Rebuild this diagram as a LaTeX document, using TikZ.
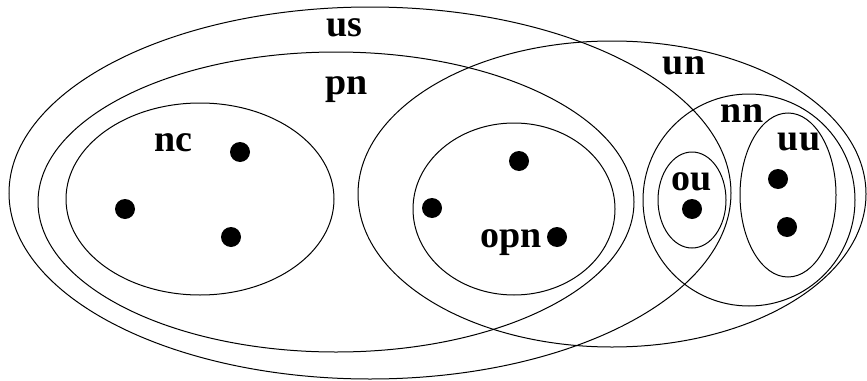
\documentclass[tikz,border=0pt]{standalone}
\usepackage{fontspec}
\setmainfont{Liberation Serif}
\usetikzlibrary{shapes.geometric}
\begin{document}
\begin{tikzpicture}[x=0.5pt,y=-0.5pt,
  setshape/.style={draw=black, line width=0.5pt, ellipse, inner sep=0pt, minimum width=#1},
  pt/.style={circle, fill=black, inner sep=0pt, minimum size=10pt},
  lbl/.style={anchor=base, inner sep=0pt, font=\fontsize{19}{22}\selectfont\bfseries}]
\useasboundingbox (0,0) rectangle (867,380);
% sets: (center), width=2rx, height=2ry (in px, 1px = 0.5pt)
\node[setshape=361pt, minimum height=186pt] (us) at (370,193) {};
\node[setshape=298pt, minimum height=150pt] (pn) at (336,202) {};
\node[setshape=134pt, minimum height=96pt] (nc) at (200,199) {};
\node[setshape=254pt, minimum height=153pt] (un) at (612,194) {};
\node[setshape=101pt, minimum height=86pt] (opn) at (514,209) {};
\node[setshape=106pt, minimum height=106pt] (nn) at (749,200) {};
\node[setshape=48pt, minimum height=82pt] (uu) at (788,195) {};
\node[setshape=34pt, minimum height=48pt] (ou) at (692,200) {};
% labels
\node[lbl] (lus) at (344,36) {us};
\node[lbl] (lpn) at (347,94) {pn};
\node[lbl] (lnc) at (173,151) {nc};
\node[lbl] (lun) at (684,74) {un};
\node[lbl] (lnn) at (742,122) {nn};
\node[lbl] (luu) at (799,150) {uu};
\node[lbl] (lou) at (692,190) {ou};
\node[lbl] (lopn) at (511,247) {opn};
% points
\node[pt] (p1) at (240,152) {};
\node[pt] (p2) at (125,209) {};
\node[pt] (p3) at (231,237) {};
\node[pt] (p4) at (519,161) {};
\node[pt] (p5) at (432,208) {};
\node[pt] (p6) at (557,237) {};
\node[pt] (p7) at (692,209) {};
\node[pt] (p8) at (778,179) {};
\node[pt] (p9) at (787,227) {};
\end{tikzpicture}
\end{document}
